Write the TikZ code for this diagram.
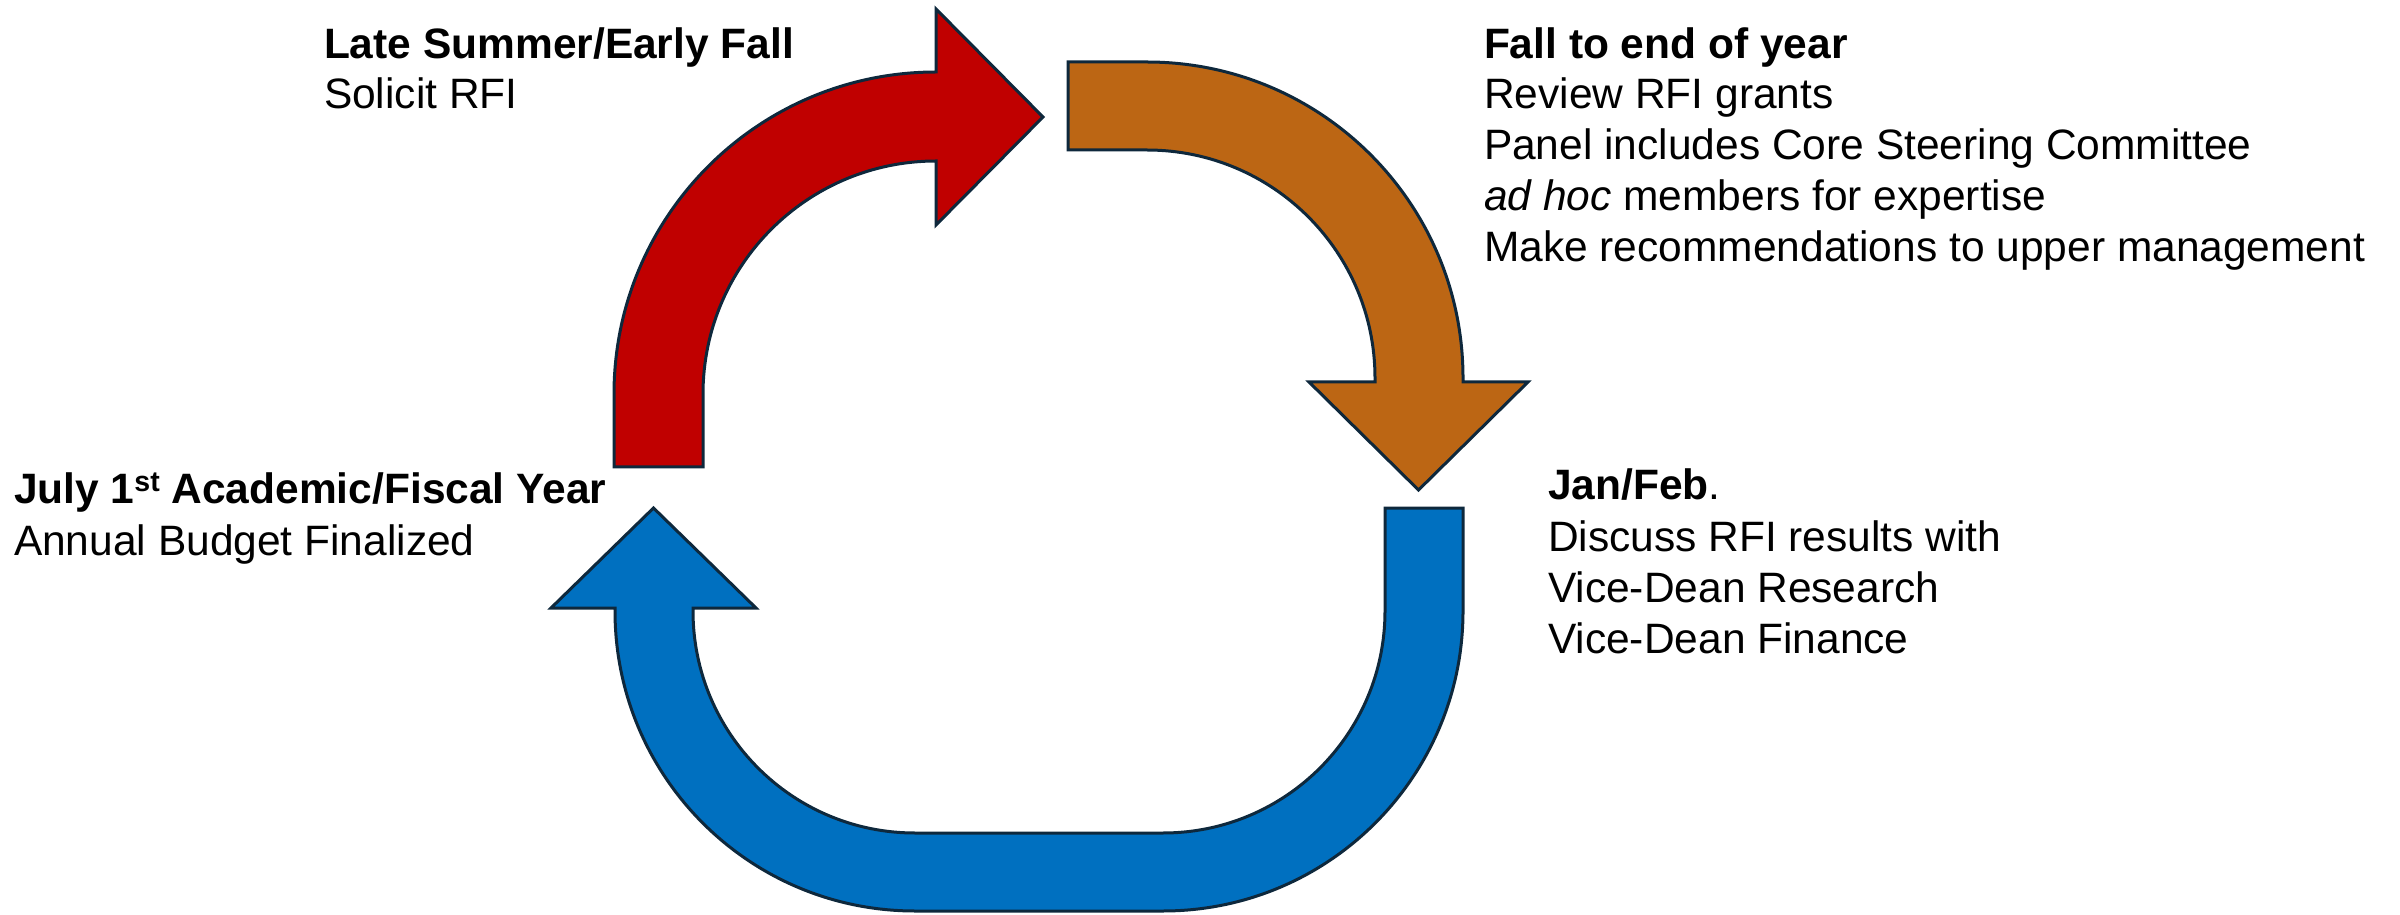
\documentclass[tikz,border=0pt]{standalone}
\usepackage{fontspec}
\setmainfont{Liberation Sans}
\definecolor{outline}{RGB}{14,40,60}
\definecolor{arrred}{RGB}{192,0,0}
\definecolor{arrorange}{RGB}{188,102,20}
\definecolor{arrblue}{RGB}{0,112,192}
\begin{document}
\begin{tikzpicture}[x=1pt,y=1pt,
  arrowshape/.style={draw=outline, line width=3pt, line join=miter},
  lbl/.style={anchor=base west, inner sep=0pt, outer sep=0pt, font=\fontsize{42.5}{50.7}\selectfont}]
\useasboundingbox (0,0) rectangle (2400,914);
% red arrow
\path[arrowshape, fill=arrred]
  (614,447) -- (614,520) arc[start angle=180,end angle=90,radius=322]
  -- (936,905) -- (1043,797) -- (936,689) -- (936,753)
  arc[start angle=90,end angle=180,radius=233] -- (703,447) -- cycle;
% orange arrow
\path[arrowshape, fill=arrorange]
  (1068,852) -- (1147,852) arc[start angle=90,end angle=0,radius=316]
  -- (1463,532) -- (1528,532) -- (1418.5,424) -- (1309,532) -- (1375,532) -- (1375,536)
  arc[start angle=0,end angle=90,radius=228] -- (1068,764) -- cycle;
% blue arrow
\path[arrowshape, fill=arrblue]
  (1463,406) -- (1463,303) arc[start angle=0,end angle=-90,radius=300]
  -- (915,3) arc[start angle=270,end angle=180,radius=300]
  -- (615,306) -- (551,306) -- (653.5,406) -- (756,306) -- (693,306) -- (693,303)
  arc[start angle=180,end angle=270,radius=222] -- (1163,81)
  arc[start angle=-90,end angle=0,radius=222] -- (1385,406) -- cycle;
% texts
\node[lbl] (t1a) at (324,855) {\bfseries Late Summer/Early Fall};
\node[lbl] (t1b) at (324,805) {Solicit RFI};
\node[lbl] (t2a) at (1484,855) {\bfseries Fall to end of year};
\node[lbl] (t2b) at (1484,805) {Review RFI grants};
\node[lbl] (t2c) at (1484,754) {Panel includes Core Steering Committee};
\node[lbl] (t2d) at (1484,703) {\textit{ad hoc} members for expertise};
\node[lbl] (t2e) at (1484,652) {Make recommendations to upper management};
\node[lbl] (t3a) at (1548,415) {\textbf{Jan/Feb}.};
\node[lbl] (t3b) at (1548,363) {Discuss RFI results with};
\node[lbl] (t3c) at (1548,312) {Vice-Dean Research};
\node[lbl] (t3d) at (1548,261) {Vice-Dean Finance};
\node[lbl] (t4a) at (14,410) {\bfseries July 1\raisebox{12pt}{\fontsize{28.5}{28.5}\selectfont st} Academic/Fiscal Year};
\node[lbl] (t4b) at (14,359) {Annual Budget Finalized};
\end{tikzpicture}
\end{document}
